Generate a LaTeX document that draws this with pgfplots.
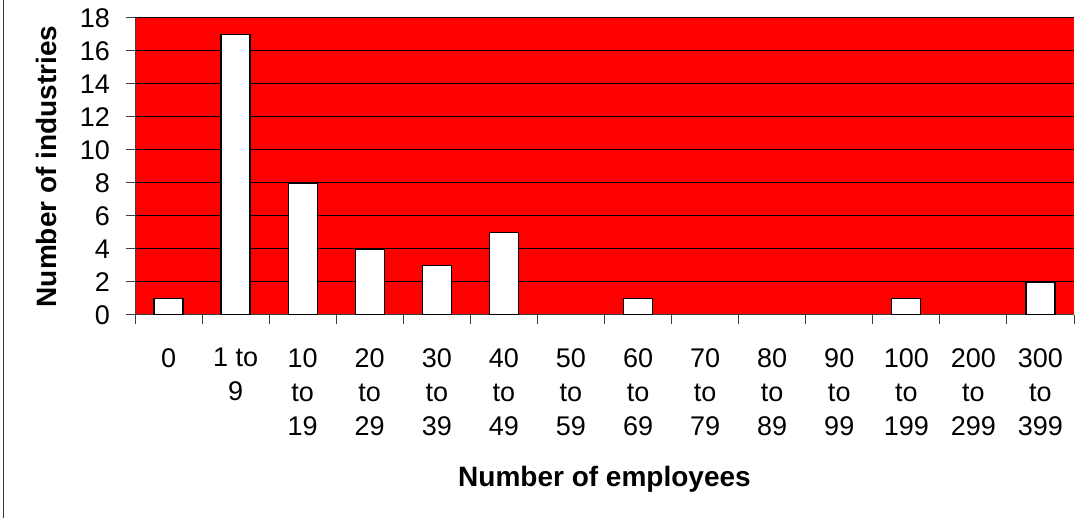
\documentclass[border=0pt]{standalone}
\usepackage{fontspec}
\setmainfont{Liberation Sans}
\usepackage{pgfplots}
\pgfplotsset{compat=1.18}
\begin{document}
\begin{tikzpicture}
\path[use as bounding box] (0,0) rectangle (1080pt,518pt);
\draw[line width=1pt, black!80] (3pt,0) -- (3pt,518pt);
\begin{axis}[
  at={(135pt,203pt)}, anchor=south west,
  scale only axis, width=939pt, height=297pt,
  ybar, bar width=29pt,
  xmin=-0.5, xmax=13.5, ymin=0, ymax=18,
  axis background/.style={fill=red},
  axis x line*=bottom, axis y line*=left,
  axis line style={-, black!75, line width=1pt},
  xtick={0,...,13},
  xticklabels={0,1 to\\9,10\\to\\19,20\\to\\29,30\\to\\39,40\\to\\49,50\\to\\59,60\\to\\69,70\\to\\79,80\\to\\89,90\\to\\99,100\\to\\199,200\\to\\299,300\\to\\399},
  minor xtick={-0.5,0.5,...,13.5},
  major x tick style={draw=none},
  minor x tick style={black!75, line width=1pt},
  ytick={0,2,...,18},
  major y tick style={black!75, line width=1pt},
  tick align=outside,
  major tick length=9pt, minor tick length=9pt,
  ymajorgrids,
  major grid style={black, line width=1pt},
  /pgf/number format/assume math mode=true,
  tick label style={font=\fontsize{27}{34}\selectfont},
  xticklabel style={align=center, anchor=north, inner sep=0pt, yshift=-24pt},
  yticklabel style={anchor=east, inner sep=0pt, xshift=-16pt},
  xlabel={Number of employees},
  ylabel={Number of industries},
  label style={font=\fontsize{28}{32}\selectfont\bfseries},
  xlabel style={at={(axis description cs:0.5,-0.579)}, anchor=base},
  ylabel style={at={(axis description cs:-0.0831,0.5)}, anchor=base},
]
\addplot[fill=white, draw=black, line width=1.3pt] coordinates {
  (0,1) (1,17) (2,8) (3,4) (4,3) (5,5) (7,1) (11,1) (13,2)
};
\end{axis}
\end{tikzpicture}
\end{document}
